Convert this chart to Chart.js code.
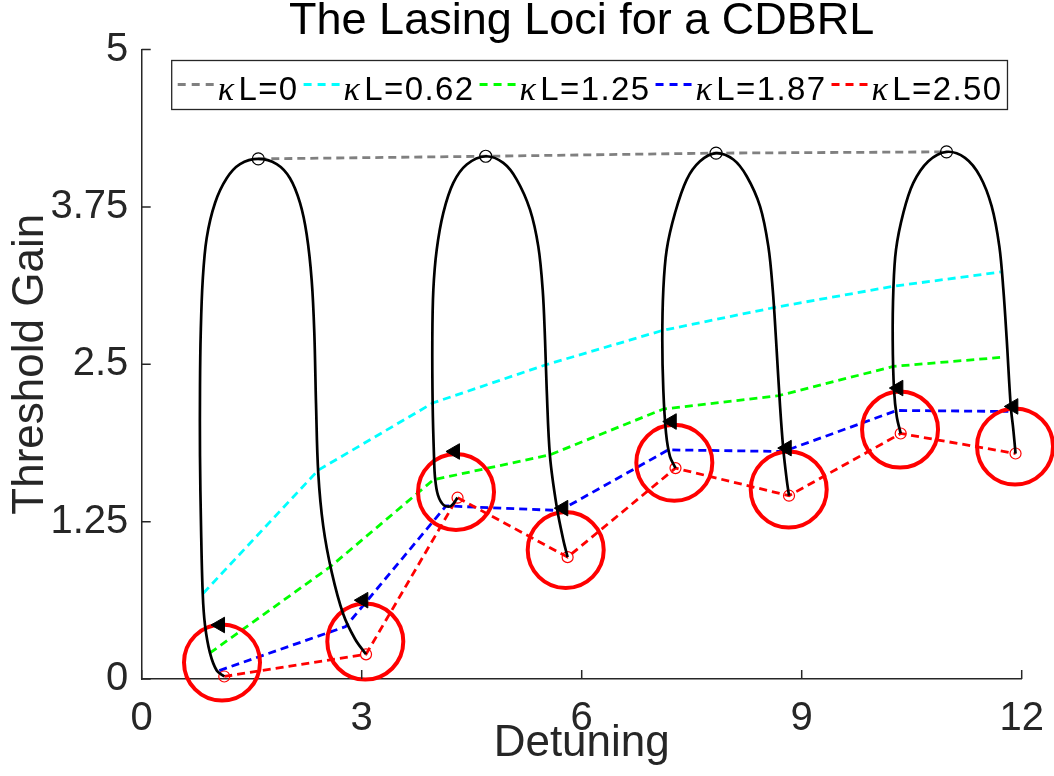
<!DOCTYPE html>
<html>
<head>
<meta charset="utf-8">
<title>The Lasing Loci for a CDBRL</title>
<script src="https://cdn.jsdelivr.net/npm/chart.js@4.4.0/dist/chart.umd.min.js"></script>
<style>
    html, body { margin: 0; padding: 0; background: #fff; }
    #wrap { width: 1054px; height: 776px; }
</style>
</head>
<body>
<div id="wrap"><canvas id="lociChart" width="1054" height="776"></canvas></div>
<script>
// DATOS

// curvas negras: un lazo por cada par de modos
const loop1X = [1.126, 1.023, 0.931, 0.863, 0.832, 0.809, 0.795, 0.795, 0.805, 0.832, 0.886, 1.000, 1.159, 1.341, 1.590, 1.841, 2.022, 2.159, 2.250, 2.318, 2.354, 2.377, 2.408, 2.476, 2.591, 2.749, 2.909, 3.059];
const loop1Y = [0.020, 0.067, 0.207, 0.429, 0.681, 1.212, 1.770, 2.329, 2.748, 3.167, 3.502, 3.781, 3.977, 4.089, 4.131, 4.089, 3.977, 3.781, 3.530, 3.167, 2.748, 2.189, 1.631, 1.212, 0.849, 0.514, 0.318, 0.196];
const loop2X = [4.307, 4.220, 4.120, 4.040, 4.000, 3.986, 3.968, 3.963, 3.977, 4.023, 4.113, 4.249, 4.432, 4.691, 4.931, 5.114, 5.295, 5.408, 5.468, 5.500, 5.523, 5.568, 5.659, 5.749, 5.808];
const loop2Y = [1.440, 1.375, 1.380, 1.460, 1.600, 1.767, 2.165, 2.695, 3.092, 3.410, 3.702, 3.940, 4.086, 4.152, 4.099, 3.967, 3.728, 3.436, 3.092, 2.695, 2.297, 1.767, 1.370, 1.105, 0.968];
const loop3X = [7.279, 7.204, 7.150, 7.113, 7.099, 7.113, 7.159, 7.273, 7.432, 7.613, 7.832, 8.068, 8.250, 8.432, 8.545, 8.605, 8.650, 8.705, 8.750, 8.796, 8.827];
const loop3Y = [1.675, 1.767, 1.953, 2.297, 2.695, 3.092, 3.410, 3.702, 3.967, 4.112, 4.177, 4.126, 3.993, 3.754, 3.436, 3.092, 2.695, 2.165, 1.820, 1.582, 1.456];
const loop4X = [10.350, 10.296, 10.259, 10.241, 10.250, 10.286, 10.386, 10.522, 10.727, 10.975, 11.227, 11.432, 11.591, 11.695, 11.750, 11.796, 11.851, 11.886, 11.916];
const loop4Y = [1.950, 2.085, 2.297, 2.695, 3.092, 3.410, 3.702, 3.940, 4.112, 4.187, 4.139, 3.993, 3.754, 3.436, 3.092, 2.695, 2.165, 1.979, 1.791];

// lineas discontinuas para cada kappa*L
const kl0X = [1.590, 4.691, 7.832, 10.975];
const kl0Y = [4.131, 4.152, 4.177, 4.187];
const kl062X = [0.840, 2.408, 3.968, 5.513, 7.105, 8.636, 10.250, 11.714];
const kl062Y = [0.681, 1.659, 2.192, 2.496, 2.769, 2.952, 3.119, 3.233];
const kl125X = [0.931, 2.568, 3.977, 5.568, 7.113, 8.681, 10.250, 11.705];
const kl125Y = [0.207, 0.890, 1.582, 1.781, 2.144, 2.250, 2.483, 2.554];
const kl187X = [1.058, 2.780, 4.150, 5.704, 7.181, 8.750, 10.296, 11.818];
const kl187Y = [0.067, 0.416, 1.375, 1.338, 1.820, 1.807, 2.133, 2.125];
const kl250X = [1.126, 3.059, 4.307, 5.808, 7.279, 8.827, 10.350, 11.916];
const kl250Y = [0.020, 0.196, 1.440, 0.968, 1.675, 1.456, 1.950, 1.791];

// circulos rojos grandes y flechas
const ringX = [1.095, 3.049, 4.286, 5.782, 7.263, 8.823, 10.341, 11.909];
const ringY = [0.131, 0.297, 1.486, 1.025, 1.717, 1.505, 1.981, 1.847];
const arrowX = [1.068, 3.022, 4.272, 5.749, 7.228, 8.796, 10.318, 11.886];
const arrowY = [0.429, 0.626, 1.807, 1.357, 2.045, 1.834, 2.311, 2.165];

const xTicks = [0, 3, 6, 9, 12];
const yTicks = [0, 1.25, 2.5, 3.75, 5];
const legendOrder = ['0', '0.62', '1.25', '1.87', '2.50'];

const FONT = '"Liberation Sans", Arial, Helvetica, sans-serif';
const pts = (xs, ys) => xs.map((x, i) => ({x: x, y: ys[i]}));

function lazo(xs, ys) {
    return {data: pts(xs, ys), showLine: true, borderColor: '#000', borderWidth: 2.7,
            tension: 0.35, pointRadius: 0, fill: false};
}

function discontinua(xs, ys, color, kappaL) {
    return {data: pts(xs, ys), showLine: true, borderColor: color, borderWidth: 2.8,
            borderDash: [8, 5], pointRadius: 0, tension: 0, kappaL: kappaL};
}

// ticks hacia dentro, como en matlab
const ticksDentro = {
    id: 'ticksDentro',
    afterDraw(chart) {
        const {ctx, chartArea: a, scales: {x, y}} = chart;
        ctx.save();
        ctx.strokeStyle = '#262626';
        ctx.lineWidth = 1.5;
        ctx.beginPath();
        x.ticks.forEach(t => {
            const px = x.getPixelForValue(t.value);
            ctx.moveTo(px, a.bottom);
            ctx.lineTo(px, a.bottom - 9);
        });
        y.ticks.forEach(t => {
            const py = y.getPixelForValue(t.value);
            ctx.moveTo(a.left, py);
            ctx.lineTo(a.left + 9, py);
        });
        ctx.stroke();
        ctx.restore();
    }
};

// leyenda con recuadro y kappa en cursiva
const leyenda = {
    id: 'leyenda',
    afterDraw(chart) {
        const {ctx, chartArea: a} = chart;
        const items = legendOrder.map(k => chart.data.datasets.find(d => d.kappaL === k));
        const left = a.left + 30, top = a.top + 11, h = 49;
        const fKappa = 'italic 34px "Liberation Serif", serif';
        const fTexto = '33px ' + FONT;
        ctx.save();
        ctx.letterSpacing = '1.4px';
        let x = left + 6;
        const pos = items.map(d => {
            ctx.font = fKappa;
            const wk = ctx.measureText('\u03BA').width;
            ctx.font = fTexto;
            const wt = ctx.measureText('L=' + d.kappaL).width;
            const p = {d: d, x: x, wk: wk};
            x += 40 + wk + 3 + wt + 5;
            return p;
        });
        const right = x - 5 + 5;
        ctx.fillStyle = '#fff';
        ctx.fillRect(left, top, right - left, h);
        ctx.strokeStyle = '#262626';
        ctx.lineWidth = 1.3;
        ctx.strokeRect(left, top, right - left, h);
        pos.forEach(p => {
            ctx.strokeStyle = p.d.borderColor;
            ctx.lineWidth = 2.8;
            ctx.setLineDash([8, 6]);
            ctx.beginPath();
            ctx.moveTo(p.x, top + 24);
            ctx.lineTo(p.x + 37, top + 24);
            ctx.stroke();
            ctx.setLineDash([]);
            ctx.fillStyle = '#000';
            ctx.textBaseline = 'alphabetic';
            ctx.font = fKappa;
            ctx.fillText('\u03BA', p.x + 40, top + 39);
            ctx.font = fTexto;
            ctx.fillText('L=' + p.d.kappaL, p.x + 40 + p.wk + 3, top + 39);
        });
        ctx.restore();
    }
};

document.addEventListener('DOMContentLoaded', () => {
    new Chart(document.getElementById('lociChart'), {
        type: 'scatter',
        data: {
            datasets: [
                // flechas
                {data: pts(arrowX, arrowY), pointStyle: 'triangle', rotation: -90, pointRadius: 9,
                 pointBackgroundColor: '#000', pointBorderColor: '#000', pointBorderWidth: 1},
                lazo(loop1X, loop1Y),
                lazo(loop2X, loop2Y),
                lazo(loop3X, loop3Y),
                lazo(loop4X, loop4Y),
                // circulos grandes
                {data: pts(ringX, ringY), pointRadius: 38, pointBorderWidth: 4,
                 pointBorderColor: '#ff0000', pointBackgroundColor: 'rgba(0,0,0,0)', clip: false},
                Object.assign(discontinua(kl250X, kl250Y, '#ff0000', '2.50'),
                    {pointRadius: 5.5, pointBorderColor: '#ff0000', pointBackgroundColor: 'rgba(0,0,0,0)',
                     pointBorderWidth: 1.2, clip: false}),
                discontinua(kl187X, kl187Y, '#0000ff', '1.87'),
                discontinua(kl125X, kl125Y, '#00ff00', '1.25'),
                discontinua(kl062X, kl062Y, '#00ffff', '0.62'),
                Object.assign(discontinua(kl0X, kl0Y, '#808080', '0'),
                    {pointRadius: 6, pointBorderColor: '#000', pointBackgroundColor: 'rgba(0,0,0,0)',
                     pointBorderWidth: 1.2}),
            ],
        },
        options: {
            responsive: false,
            animation: false,
            events: [],
            layout: {autoPadding: false, padding: {top: 0, right: 32.3, bottom: 0, left: 0}},
            plugins: {
                legend: {display: false},
                tooltip: {enabled: false},
                title: {
                    display: true, text: 'The Lasing Loci for a CDBRL', fullSize: false, color: '#000',
                    font: {family: FONT, size: 45, weight: 'normal', lineHeight: 0.9},
                    padding: {top: 1.5, bottom: 7.5},
                },
            },
            scales: {
                x: {
                    type: 'linear', min: xTicks[0], max: xTicks[xTicks.length - 1],
                    afterBuildTicks: s => { s.ticks = xTicks.map(v => ({value: v})); },
                    ticks: {padding: 15.5, color: '#262626', font: {family: FONT, size: 40},
                            callback: v => String(v)},
                    grid: {display: false, drawTicks: false},
                    border: {display: true, color: '#262626', width: 1.5},
                    title: {display: true, text: 'Detuning', color: '#262626',
                            font: {family: FONT, size: 44}, padding: {top: 0, bottom: 6}},
                    afterFit: s => { s.height = 97; s.paddingLeft = 0; s.paddingRight = 0; },
                },
                y: {
                    type: 'linear', min: yTicks[0], max: yTicks[yTicks.length - 1],
                    afterBuildTicks: s => { s.ticks = yTicks.map(v => ({value: v})); },
                    ticks: {padding: 13.4, color: '#262626', font: {family: FONT, size: 40},
                            callback: v => String(v)},
                    grid: {display: false, drawTicks: false},
                    border: {display: true, color: '#262626', width: 1.5},
                    title: {display: true, text: 'Threshold Gain', color: '#262626',
                            font: {family: FONT, size: 44}, padding: {top: 4.6, bottom: 0}},
                    afterFit: s => { s.width = 141.7; },
                },
            },
        },
        plugins: [ticksDentro, leyenda],
    });
});
</script>
</body>
</html>
